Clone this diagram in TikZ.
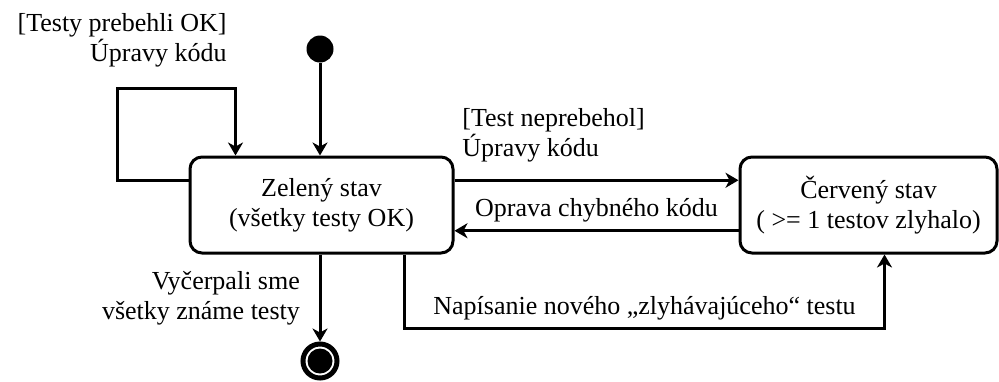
\documentclass[tikz,border=0pt]{standalone}
\usepackage{fontspec}
\setmainfont{Liberation Serif}
\usetikzlibrary{arrows.meta,positioning,calc}

\begin{document}
\begin{tikzpicture}[x=0.5pt,y=-0.5pt,
    font=\fontsize{13}{15}\selectfont,
    state/.style={draw,line width=1.5pt,rounded corners=6pt,align=center,minimum height=48pt},
    trans/.style={line width=1.5pt,-{Stealth[length=6.5pt,width=7.5pt,inset=2pt]}},
    guard/.style={inner sep=0pt},
  ]
  \useasboundingbox (0,0) rectangle (999,381);

  % states
  \node[state,minimum width=131.5pt] (green) at (321.5,205) {Zelený stav\\(všetky testy OK)};
  \node[state,minimum width=128.5pt] (red) at (868.5,205) {Červený stav\\( >= 1 testov zlyhalo)};
  \node[circle,fill,inner sep=0pt,minimum size=13.5pt] (init) at (320,49) {};
  \node[circle,draw,line width=2.5pt,inner sep=0pt,minimum size=17pt] (final) at (320,361) {};
  \node[circle,fill,inner sep=0pt,minimum size=12.5pt] (finaldot) at (final) {};

  % transitions
  \draw[trans] (init) -- (init |- green.north);

  \coordinate (loopout) at ($(green.north west)!0.25!(green.south west)$);
  \coordinate (loopin) at ([xshift=23.5pt]green.north west);
  \draw[trans] (loopout) -| (117,88) -| (loopin);
  \node[guard,anchor=north east,align=right] (looplabel) at (227,13) {[Testy prebehli OK]\\Úpravy kódu};

  \draw[trans] ($(green.north east)!0.25!(green.south east)$) -- ($(red.north west)!0.25!(red.south west)$);
  \node[guard,anchor=north west,align=left] (faillabel) at (462,108) {[Test neprebehol]\\Úpravy kódu};

  \draw[trans] ($(red.north west)!0.76!(red.south west)$) -- node[above] {Oprava chybného kódu}
    ($(green.north east)!0.76!(green.south east)$);

  \draw[trans] ([xshift=-25pt]green.south east) -- ++(0,74)
    -| node[pos=0.25,above] {Napísanie nového „zlyhávajúceho“ testu} ([xshift=8pt]red.south);

  \draw[trans] (green.south -| final) -- node[left=6pt,align=right] {Vyčerpali sme\\všetky známe testy} (final);
\end{tikzpicture}
\end{document}
